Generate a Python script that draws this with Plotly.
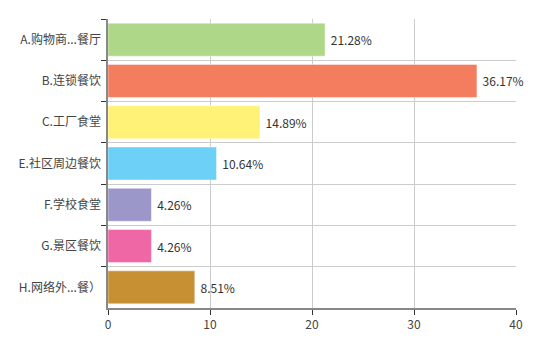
import plotly.graph_objects as go

categories = ["A.购物商...餐厅", "B.连锁餐饮", "C.工厂食堂", "E.社区周边餐饮",
              "F.学校食堂", "G.景区餐饮", "H.网络外...餐）"]
percentages = [21.28, 36.17, 14.89, 10.64, 4.26, 4.26, 8.51]
colors = ["#aed788", "#f47c5f", "#fff276", "#6cd0f7", "#9b97c8", "#f067a6", "#c69033"]
x_ticks = [0, 10, 20, 30, 40]

fig = go.Figure(go.Bar(
    x=percentages,
    y=categories,
    orientation="h",
    marker=dict(color=colors, line=dict(color="rgba(255,255,255,0.45)", width=1)),
    text=[f"{v:.2f}%" for v in percentages],
    texttemplate=" %{text}",
    textposition="outside",
    textfont=dict(size=12, color="#333333"),
    cliponaxis=False,
    width=0.8,
))

fig.update_layout(
    width=536, height=344,
    margin=dict(l=108, r=20, t=19, b=31),
    paper_bgcolor="white", plot_bgcolor="white",
    font=dict(family="Noto Sans CJK SC, Microsoft YaHei, sans-serif", size=12, color="#444444"),
    showlegend=False,
    xaxis=dict(
        range=[0, 40], tickvals=x_ticks, ticks="outside", ticklen=5, tickcolor="#333333",
        showgrid=True, gridcolor="#cccccc", gridwidth=1,
        showline=True, linecolor="#888888", linewidth=2, zeroline=False,
        tickfont=dict(size=12, color="#444444"),
    ),
    yaxis=dict(
        type="category", autorange="reversed", tickson="boundaries",
        ticks="outside", ticklen=5, tickcolor="#333333",
        showgrid=True, gridcolor="#cccccc", gridwidth=1,
        showline=True, linecolor="#888888", linewidth=2,
        tickfont=dict(size=12, color="#444444"),
        ticksuffix=" ",
    ),
)

fig.write_html("out.html")
